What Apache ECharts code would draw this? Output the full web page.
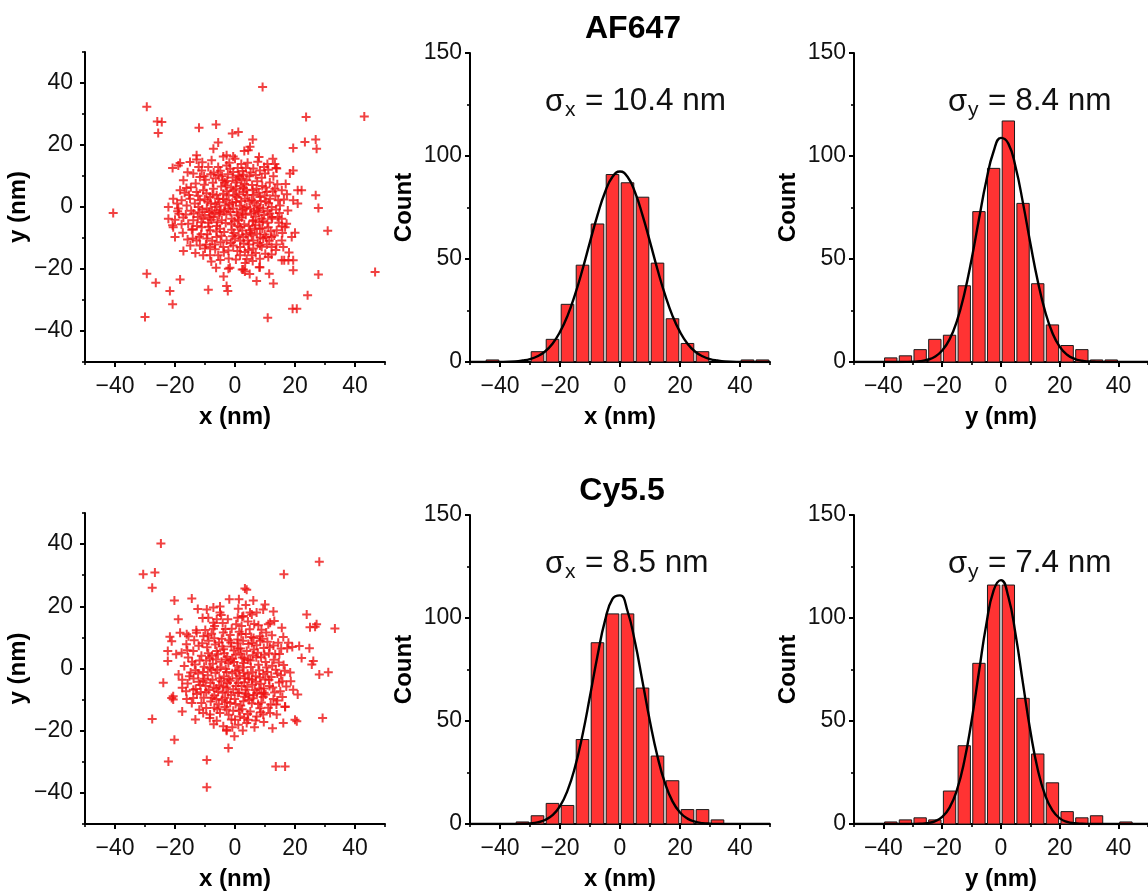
<!DOCTYPE html>
<html><head><meta charset="utf-8">
<script src="https://cdn.jsdelivr.net/npm/echarts@6/dist/echarts.min.js"></script>
<style>html,body{margin:0;padding:0;background:#fff}#c{width:1148px;height:895px}</style>
</head><body><div id="c"></div>
<script>
// ---------------- DATA ----------------
const BIN_WIDTH = 5;
const panelTitles = ['AF647', 'Cy5.5'];
const majorTicks = [-40, -20, 0, 20, 40];
const minorTicks = [-50, -30, -10, 10, 30, 50];

const af647Scatter = [
[9.2,38.7],[-29.4,32.3],[-25.9,27.6],[-24.4,27.4],[-25.6,23.9],[-12,25.6],[-6.3,26.6],[-0.9,23.7],[1.1,24.2],[23.7,29],[43.1,29.2],[23.3,21],[26.9,21.8],[27.2,18.8],[19.4,19],[5.9,21.8],[-5.6,20.8],[-7.2,18.8],[3.1,18.1],[4.4,18.3],[8,16.1],[-2.8,16.7],[-0.6,16.3],[-12.8,16.7],[-20.8,12.6],[-18.3,14.2],[12.6,15.6],[13.7,12.6],[18.3,10.8],[19.4,11.8],[20.9,5.4],[22.2,5.4],[26.9,3.8],[27.8,-0.3],[19.4,2.2],[20.9,1.1],[30.9,-7.7],[-40.6,-1.9],[46.7,-21],[20,-8.3],[16.4,-17.2],[19.4,-17.2],[19.4,-20.4],[27.8,-21.8],[24.2,-28.5],[19.2,-32.8],[20.6,-32.8],[10.9,-35.7],[-30,-35.5],[-20.8,-31.4],[-21.7,-27.1],[-29.4,-21.5],[-26.4,-24.4],[-18.3,-23.4],[-8.9,-26.7],[-2.8,-25.5],[-2.4,-27.1],[-2.2,-19.9],[2.4,-20.2],[3.3,-20.8],[7.2,-23.9],[11.4,-21.5],[12.8,-24.7],[11.1,-16.1],[8.1,-19.4],[5.9,-17.4],[-17.2,-14.2],[-20,-9.7],[-20.8,-5.9],[-14.1,-7.2],[16.1,-12.9],[18,-14.7],[15.6,-6.2],[14.2,-3.2],
[5,19.4],[13.3,13.9],[11.1,12],[13.9,12.4],[-12.8,15.3],[-15,14.5],[-18.9,13.4],[-7.8,15.1],[-3.9,16.3],[0,15.6],[-11.1,11.8],[-8.9,12.9],[-5.6,12.9],[-2.8,13.4],[1.1,10.2],[2.2,9.1],[0.6,8.6],[3.9,8.6],[-13.9,10.8],[-11.7,9.7],[-17.2,8.6],[6.1,12.4],[8.3,11.8],[10,10.8],
[-18.3,5.4],[-12.8,4.8],[-10.6,5.4],[-7.2,5.9],[-3.9,4.3],[-0.6,5.4],[2.8,4.8],[7.2,5.9],[10.6,4.8],[13.3,5.9],[15.6,5.4],
[-20.6,2.7],[-17.8,2.2],[-15,2.7],[-11.7,2.2],[-8.3,3.2],[-5.6,2.7],[-2.8,2.2],[0.6,3.2],[3.3,2.7],[5.6,2.2],[8.3,3.2],[11.7,2.7],[14.4,2.2],
[-22.2,0],[-18.9,-0.5],[-16.1,0.5],[-12.2,0],[-9.4,-0.5],[-6.1,0],[-3.3,0.5],[-0.6,-0.5],[3.9,0],[7.2,0.5],[9.4,-0.5],[12.2,0],[15,0.5],
[-22.2,-3.8],[-20,-4.1],[-17.2,-3.4],[-13.9,-4.3],[-10.6,-3.8],[-7.2,-3.2],[-4.4,-4.3],[-1.1,-3.8],[2.2,-3.4],[6.1,-4.3],[8.9,-3.8],[12.2,-3.2],[15.6,-3.8],[17.2,-5.4],
[-20.6,-6.5],[-14.4,-7.3],[-11.1,-6.5],[-8.3,-7.5],[-5,-7],[-1.1,-7.3],[1.7,-6.5],[5,-7.5],[8.3,-7],[11.1,-6.5],[13.9,-7.5],[16.7,-6.5],
[-12.8,-10.8],[-9.4,-10.2],[-6.1,-9.7],[-2.8,-10.8],[0,-10.2],[2.8,-9.7],[6.1,-10.8],[9.4,-10.2],[12.2,-9.7],[15.6,-10.8],[18.9,-9.7],
[-11.7,-12.4],[-10,-13.4],[-8.3,-12.9],[-3.9,-12.9],[-0.6,-12.4],[1.7,-12.9],[6.1,-13.4],[8.3,-12.4],[12.2,-12.9],
[-10.6,-15.6],[-8.3,-15.6],[-2.2,-14],[1.7,-15.6],[3.3,-14.5],[-5.6,-15.6],[5.6,-15.6],[8.3,-16.7],[15.6,-17.2],[17.8,-17.2],[-1.7,-19.6],[2.8,-20.2],[8.3,-19.4],
[1.5,9.8],[2.8,10.4],[0.2,7.9],[3.2,7.4],[1.9,6.8],[-0.8,9.5],[4.8,9.9],[2.5,11.6],[6.5,1.4],[7.9,-1.8],[9.7,-2.6],[10.8,-5.1],[6.8,-5.9],[5.4,-2.1],[8.6,1.9],[11.2,1.2],[7.3,-8.6],[9.9,-8.9],[6.2,3.9],[4.6,-6.1],[-7.5,4.1],[-5.2,1.5],[-3.6,-1.4],[-2.1,3.8],[-6.8,-1.9],[-4.6,6.6],[-1.8,0.9],[-8.1,1.2],[-2.9,-2.3],[-5.9,-4.9],[-3.4,7.9],[-1.2,-5.6],[-14.6,-1.2],[-16.4,-2.4],[-12.7,-6.1],[-15.3,3.9],[-10.2,7.2],[13.5,3.6],[14.8,-1.9],[12.4,-3.8],[16.3,2.4],[-9.7,-12.1],[-6.6,-13.6],[2.9,-11.8],[4.4,-13.9],[-4.3,9.9],[7.4,8.3],[9.1,6.8],[11.6,7.9],[-11.8,-1.7],[-10.1,2.5],[0.9,-2.7],[2.4,-0.9],[0.3,1.6],[-0.4,-8.4],[3.7,-8.8],[10.6,-12.1],[13.1,-9.2],[-15.8,-10.5],[-13.2,-14.8],
[-13.1,7.6],[-9.8,8.8],[-6.4,9.3],[-2.4,10.6],[5.7,7.1],[8.9,9.4],[12.8,9.9],[-16.2,6.1],[-4.9,11.7],[0.9,12.6],[4.2,14.3],[-9.5,4.4],[-6.1,3.8],[-3.1,6.9],[0.4,5.9],[3.8,5.6],[9.9,3.7],[12.6,5.1],[-13.4,1.1],[-10.9,-0.8],[-7.7,-1.1],[-4.8,-0.9],[-1.5,-1.6],[1.6,0.4],[4.8,1.9],[6.9,-3.1],[10.9,-1.3],[13.7,-0.8],[-18.7,-2.2],[-15.6,-5.4],[-12.4,-3.2],[-8.9,-5.1],[-6.2,-7.9],[-3.1,-5.2],[-0.2,-4.6],[3.1,-5.6],[5.6,-9.1],[8.1,-4.9],[11.9,-7.8],[14.6,-5.1],[-17.4,-8.3],[-14.1,-10.2],[-11.3,-8.8],[-7.6,-10.9],[-4.5,-9.3],[-1.4,-11.6],[1.2,-9.1],[4.3,-10.8],[7.6,-11.6],[10.4,-9.7],[13.8,-12.1],[-6.7,-12.1],[0.8,-14.2],[6.9,-14.8],[-12.1,12.9],[-7.1,11.1],[2.1,13.9],[7.6,14.6],[10.8,13.9],[-15.8,11.2],[-1.6,12.3],[5.2,11.1],[16.9,7.4],[17.6,-1.1],[-19.1,-1.4],[2.6,-2.2],[-2.6,8.4],[-8.4,-3.3],[5.9,5.4],[1.3,-4.2],[-11.2,-4.9],[8.9,-12.8],[-3.7,-14.6],[3.9,-16.8],[-7.9,-17.6],[12.2,-15.3],
[-10.3,9.9],[-7.4,7.8],[-4.1,8.6],[-1.3,6.3],[1.4,4.1],[4.1,3.9],[7.9,4.6],[10.2,6.3],[-12.3,3.6],[-9.1,1.8],[-6.6,0.9],[-3.9,2.6],[-0.9,1.4],[2.1,1.9],[5.1,-0.6],[8.2,-0.2],[10.3,1.7],[-13.8,-2.1],[-10.1,-2.6],[-7.9,-4.1],[-5.3,-2.4],[-2.2,-0.6],[0.6,-1.7],[3.6,-2.5],[6.3,-1.4],[9.3,-4.6],[11.6,-2.1],[-11.9,-9.6],[-9.2,-8.8],[-6.1,-6.1],[-3.6,-8.1],[-0.8,-9.4],[2.4,-7.6],[5.2,-8.3],[8.4,-9.8],[11.4,-10.9],[-4.8,-11.4],[1.8,-10.9],[4.7,-12.1],[-2.1,-16.6],[3.4,-18.1],[-8.8,-6.4],[6.6,-6.9],[-0.6,11.3],[3.6,12.6],[-8.1,10.6],[-5.6,10.3],[-1.9,14.3],[6.9,10.3],[9.7,12.9],[-14.7,6.4],[-16.8,4.6],[-19.3,1.1],[-17.8,-5.6],[14.1,7.3],[15.8,-8.4],[13.6,-13.9],[-14.9,-12.4],[17.3,4.1],[-10.9,14.4],[-4.9,-17.1],[10.1,-15.1],[0.3,-16.9],[-6.3,-19.6],[4.9,-21.6],[-3.8,-22.4],[7.6,-1.1],[9.1,-6.9],[-2.7,5.1],[-0.1,3.7],[3.2,-0.4],[5.9,-4.6],[2.8,6.1],[-5.1,-1.7],[-8.6,-1.6],[0.9,-6.1]
];

const cy55Scatter = [
[-24.7,40.2],[-30.6,30.3],[-26.7,30.9],[-27.6,26],[28.1,34.3],[16.3,30.3],[3.3,25.7],[3.9,25.3],[-14.4,22.5],[-20.2,21.9],[-5,19.9],[-1.9,22.3],[1.3,22.3],[6.1,21.9],[10,20.6],[12.8,18.3],[23.9,17.4],[33.3,12.9],[27.2,14.2],[25,13.3],[26.7,13.4],[15.6,13.1],[11.1,14.2],[-18.9,15.8],[-21.7,10.2],[-21.1,8.8],[-22.4,5.6],[-22.4,2.4],[-17.8,5.1],[-23.9,-4.6],[-21.1,-9.5],[-20.6,-10],[-17.6,-6.2],[-17.6,-13.8],[-27.6,-16.2],[-20.2,-22.9],[-22.2,-29.9],[-9.4,-29.4],[-9.4,-38.2],[-2.2,-25.6],[-0.2,-21.8],[-2.8,-20],[13.6,-31.5],[16.7,-31.5],[16.1,-17.5],[20.6,-17],[29.2,-15.9],[16.7,-12.4],[20.9,-8.4],[28.1,-1.9],[31.1,-1.2],[26.1,2.4],[25.6,1.3],[24.8,6.5],[22.2,3.4],[21.4,7.2],[17.4,6.5],[16.1,10.1],[12.8,7.4],[7.2,7.5],[8.3,10.4],[2.2,13.7],[2.4,16.6],[1.1,19.2],[5.6,17.4],[9.4,19],[13.1,15.3],
[-9.4,19],[-7.2,19.6],[-5,18],[-8.9,16.3],[-6.1,15.8],[-7.2,14.7],[2.8,16.9],[5,18],[7.2,18],[11.7,14.7],[-18.3,11.5],[-16.1,11],[-12.8,11.5],[-13.9,5.6],[14.4,8.3],[17.8,8.3],[-20.6,-8.9],[-13.9,-6.8],[-13.9,-9.5],[-14.4,-11.1],
[-10.6,-14.3],[-8.3,-14.8],[-5,-14.3],[-2.8,-13.2],[0,-16.5],[1.7,-15.4],[4.4,-16.5],[7.2,-15.4],[9.4,-14.8],[11.7,-14.3],[13.9,-14.8],[-3.9,-18.6],[-2.8,-19.7],[1.1,-18.1],[3.9,-17.5],[16.7,-12.2],[19.4,-6.8],[20,-16.5],
[-10.5,10.4],[-7.8,11.2],[-4.4,9.6],[-1.6,10.8],[0.9,9.3],[3.6,11.1],[6.2,9.8],[10.4,11.6],[-3.2,12.7],[0.4,14.2],
[-12.1,7.3],[-9.3,6.8],[-6.6,7.7],[-3.8,6.2],[-1.2,7.1],[1.8,6.4],[4.5,7.9],[9.6,6.6],[11.3,4.9],
[-15.6,3.5],[-11.2,4.1],[-8.4,3.3],[-5.7,4.6],[-2.6,3.8],[0.2,4.4],[3.1,3.2],[5.9,4.3],[8.7,3.6],[12.9,2.8],[14.8,4.7],
[-16.9,0.8],[-13.4,1.3],[-10.3,0.6],[-7.4,1.5],[-4.9,0.4],[-2.2,1.7],[0.7,0.9],[2.9,1.8],[5.3,0.5],[7.8,1.2],[10.5,0.3],[13.6,-0.4],[16.2,1.1],
[-18.8,-1.9],[-15.2,-2.5],[-12.3,-1.6],[-9.1,-2.2],[-6.5,-1.4],[-3.7,-2.6],[-0.9,-1.5],[1.6,-2.4],[4.2,-1.7],[6.9,-2.5],[9.4,-1.8],[12.1,-2.7],[15.3,-2.2],[18.4,-1.3],
[-15.8,-4.8],[-11.6,-5.3],[-8.2,-4.6],[-5.3,-5.5],[-2.5,-4.7],[0.3,-5.6],[3.1,-4.4],[5.8,-5.2],[8.6,-4.9],[11.5,-5.6],[14.7,-4.5],[17.1,-5.8],
[-12.7,-8.2],[-9.6,-7.6],[-6.9,-8.7],[-4.1,-7.8],[-1.3,-8.5],[1.4,-7.7],[4.4,-8.6],[7.3,-7.9],[10.2,-8.4],[13.2,-7.7],[15.8,-9.2],
[-11.2,-11.1],[-8.1,-10.6],[-5.4,-11.5],[-2.7,-10.8],[0.2,-11.4],[2.8,-10.5],[5.6,-11.2],[8.8,-10.9],[11.9,-11.6],[14.1,-10.3],
[-1.5,2.6],[1.2,-0.6],[-3.1,-0.2],[2.4,3.5],[-0.4,5.8],[4.7,-3.3],[-4.5,2.2],[6.3,6.1],[-6.2,-6.4],[3.5,-6.8],[0.8,8.1],[-2.9,-6.1],[8.1,-6.4],[-8.8,8.9],[10.1,-3.5],[-10.6,-3.9],[-7.2,12.8],[4.9,12.6],
[-4.1,14.6],[-10.8,16.2],[7.8,13.9],[-12.4,19.1],[-15.5,10.4],[19.1,6.9],[-19.6,4.6],[-16.3,-7.3],[18.6,-4.1],[-6.1,-16.8],[6.5,-18.9],[-13.2,-16.4],[12.5,-19.2],
[-9.9,12.4],[-6.8,13.7],[-2.4,15.8],[1.4,11.8],[4.3,15.1],[8.8,12.5],[12.3,10.7],[-13.6,9.1],[-10.9,8.1],[-5.3,8.4],[-2.1,9.1],[2.7,8.9],[5.6,8.2],[8.4,8.9],[10.8,8.6],[-14.3,2.2],[-9.6,2.6],[-6.3,2.9],[-3.6,4.9],[-0.8,3.1],[1.9,4.8],[4.3,2.8],[7.1,3.6],[10.2,2.1],[12.4,0.9],[-17.6,-3.6],[-13.8,-3.2],[-10.7,-1.1],[-7.9,-0.4],[-5.2,-3.1],[-2.1,-3.4],[0.5,-3.1],[3.3,-3.1],[5.9,-1.2],[8.3,-2.9],[11.3,-3.6],[14.1,-1.6],[-13.1,-6.6],[-9.8,-5.6],[-7.1,-6.1],[-3.8,-5.9],[-0.6,-6.7],[2.2,-5.6],[6.6,-6.9],[9.6,-6.4],[12.6,-6.1],[-10.4,-9.4],[-6.2,-9.8],[-3.3,-9.4],[-0.1,-9.8],[3.2,-9.1],[6.1,-9.6],[9.4,-9.2],[12.8,-9.8],[-9.6,-12.7],[-6.9,-12.6],[-3.4,-12.4],[-0.6,-13.6],[2.4,-13.1],[5.1,-13.8],[8.3,-12.8],[11.1,-12.6],[-1.2,-16.4],[3.1,-15.9],[-8.4,-15.9],[6.9,-16.7],[15.1,-7.3],[16.6,-0.7],[15.4,6.4],[-16.2,7.8],[-4.6,17.2],[3.6,20.4],
[-8.9,4.9],[-6.1,5.6],[-3.1,2.9],[-0.3,2.1],[2.6,0.3],[5.1,2.6],[7.6,5.1],[9.8,4.4],[-11.8,2.6],[-8.4,0.2],[-5.9,-0.4],[-2.8,-1.1],[0.1,-0.9],[2.9,-1.4],[5.6,-3.6],[8.1,-0.6],[10.8,-1.1],[-13.1,-0.6],[-10.2,-3.3],[-7.5,-3.6],[-4.6,-4.1],[-1.6,-3.9],[1.1,-4.7],[4.1,-5.9],[6.9,-4.3],[9.7,-7.8],[-12.1,-4.3],[-8.8,-6.9],[-5.6,-7.4],[-2.3,-7.6],[0.9,-7.9],[3.6,-8.1],[6.2,-8.6],[8.8,-8.1],[-11.4,-7.6],[-7.6,-9.4],[-4.4,-10.1],[-1.6,-11.1],[1.9,-11.9],[4.7,-10.1],[7.7,-11.4],[-5.9,-13.1],[-2.1,-14.9],[1.3,-13.6],[4.2,-14.6],[8.6,-14.1],[-3.9,11.6],[-1.1,12.8],[2.1,11.1],[5.4,10.1],[-6.9,9.7],[-9.1,10.6],[-1.4,8.4],[1.1,6.4],[3.9,5.6],[-4.2,7.1],[-7.7,4.1],[9.1,9.6],[11.6,6.8],[13.4,4.6],[14.6,1.9],[-14.8,-1.3],[-15.9,5.9],[-12.9,12.3],[0.9,16.3],[6.4,14.3],[-16.1,-9.8],[15.8,-4.1],[13.8,-11.6],[-11.9,-13.3],[-7.1,-17.9],[2.6,-19.9],[9.6,-17.2],[-0.9,-18.9]
];

// histogram bins: left edge of each bin (width BIN_WIDTH) and counts
const af647XBinStart = [-45,-30,-25,-20,-15,-10,-5,0,5,10,15,20,25,40,45];
const af647XCounts   = [1,5,11,28,47,67,91,87,80,48,21,9,5,1,1];
const af647YBinStart = [-40,-35,-30,-25,-20,-15,-10,-5,0,5,10,15,20,25,30,35];
const af647YCounts   = [2,3,6,11,13,37,73,94,117,77,38,18,8,6,1,1];
const cy55XBinStart  = [-35,-30,-25,-20,-15,-10,-5,0,5,10,15,20,25,30];
const cy55XCounts    = [1,4,10,9,41,88,102,102,66,33,21,7,7,2];
const cy55YBinStart  = [-40,-35,-30,-25,-20,-15,-10,-5,0,5,10,15,20,25,30,40];
const cy55YCounts    = [1,2,3,2,16,38,78,116,116,61,34,20,6,3,4,1];

// Gaussian fit curves, values at these positions
const fitX = [-50,-45,-40,-35,-32.5,-30,-27.5,-25,-22.5,-20,-17.5,-15,-12.5,-10,-7.5,-5,-2.5,0,2.5,5,7.5,10,12.5,15,17.5,20,22.5,25,27.5,30,32.5,35,40,45,50];
const af647XFit = [0,0,0.06,0.3,0.7,1.4,2.8,5.1,8.9,14.6,22.4,32.7,44.9,58.3,71.3,82.4,89.9,92.5,89.9,82.4,71.3,58.3,44.9,32.7,22.4,14.6,8.9,5.1,2.8,1.4,0.7,0.3,0.06,0,0];
const af647YFit = [0,0,0,0.01,0.05,0.15,0.42,1.09,2.56,5.55,10.97,19.9,32.9,49.9,69.3,88.0,102.3,108.8,106.0,94.4,77.0,57.5,39.3,24.6,14.1,7.36,3.53,1.55,0.62,0.23,0.08,0.02,0,0,0];
const cy55XFit  = [0,0,0,0.03,0.11,0.31,0.8,1.94,4.28,8.7,16.2,27.6,43.2,62.1,81.7,98.7,109.3,111.0,103.4,88.3,69.2,49.7,32.8,19.8,11.0,5.59,2.6,1.11,0.44,0.16,0.05,0.02,0,0,0];
const cy55YFit  = [0,0,0,0,0.01,0.04,0.14,0.45,1.32,3.43,7.95,16.5,30.4,50.2,73.8,96.9,113.4,118.4,110.3,91.7,68.0,45.0,26.5,14.0,6.57,2.75,1.03,0.34,0.1,0.03,0.01,0,0,0,0];

const sigmaAxis  = ['x', 'y', 'x', 'y'];
const sigmaValue = ['10.4', '8.4', '8.5', '7.4'];

// ---------------- LAYOUT / STYLE ----------------
const FONT = 'Liberation Sans, Arial, Helvetica, sans-serif';
const GRIDS = [
  {left: 85,  top: 52,  width: 300, height: 310},
  {left: 470, top: 53,  width: 300, height: 309},
  {left: 854, top: 53,  width: 300, height: 309},
  {left: 85,  top: 513, width: 300, height: 311},
  {left: 470, top: 515, width: 300, height: 309},
  {left: 854, top: 515, width: 300, height: 309}
];
const KIND = ['scatter','histX','histY','scatter','histX','histY'];
const minus = v => String(v).replace('-', '\u2212');
const axisLine = {show: true, onZero: false, lineStyle: {color: '#000', width: 2}};
const hiddenLine = {show: false, onZero: false};
const labelStyle = {color: '#111', fontSize: 23, fontFamily: FONT};
const nameStyle = {color: '#000', fontSize: 24, fontWeight: 'bold', fontFamily: FONT};

const xAxes = [], yAxes = [], series = [], graphics = [];

GRIDS.forEach((g, i) => {
  const kind = KIND[i];
  const xName = kind === 'histY' ? 'y (nm)' : 'x (nm)';
  xAxes.push({
    type: 'value', gridIndex: i, position: 'bottom', min: -50, max: 50, interval: 10,
    axisLine, splitLine: {show: false},
    axisTick: {show: true, customValues: majorTicks, length: 5, lineStyle: {color: '#000', width: 2}},
    axisLabel: {customValues: majorTicks, formatter: minus, margin: 13, ...labelStyle},
    name: xName, nameLocation: 'middle', nameGap: 43, nameTextStyle: nameStyle
  });
  xAxes.push({
    type: 'value', gridIndex: i, position: 'bottom', min: -50, max: 50, interval: 10,
    axisLine: hiddenLine, splitLine: {show: false}, axisLabel: {show: false},
    axisTick: {show: true, customValues: minorTicks, length: 3, lineStyle: {color: '#000', width: 1.6}}
  });
  if (kind === 'scatter') {
    yAxes.push({
      type: 'value', gridIndex: i, position: 'left', min: -50, max: 50, interval: 10,
      axisLine, splitLine: {show: false},
      axisTick: {show: true, customValues: majorTicks, length: 5, lineStyle: {color: '#000', width: 2}},
      axisLabel: {customValues: majorTicks, formatter: minus, margin: 12, ...labelStyle},
      name: 'y (nm)', nameLocation: 'middle', nameGap: 46, nameTextStyle: nameStyle
    });
    yAxes.push({
      type: 'value', gridIndex: i, position: 'left', min: -50, max: 50, interval: 10,
      axisLine: hiddenLine, splitLine: {show: false}, axisLabel: {show: false},
      axisTick: {show: true, customValues: minorTicks, length: 3, lineStyle: {color: '#000', width: 1.6}}
    });
  } else {
    yAxes.push({
      type: 'value', gridIndex: i, position: 'left', min: 0, max: 150, interval: 50,
      axisLine, splitLine: {show: false},
      axisTick: {show: true, length: 5, lineStyle: {color: '#000', width: 2}},
      minorTick: {show: true, splitNumber: 2, length: 3, lineStyle: {color: '#000', width: 1.6}},
      axisLabel: {margin: 8, ...labelStyle},
      name: 'Count', nameLocation: 'middle', nameGap: 54, nameTextStyle: nameStyle
    });
    yAxes.push({
      type: 'value', gridIndex: i, position: 'left', min: 0, max: 150, show: false,
      axisLine: hiddenLine
    });
  }
});

const plusSymbol = 'path://M0,3.5H9V5.5H0Z M3.5,0H5.5V9H3.5Z';
function scatterSeries(idx, data) {
  return {
    type: 'scatter', xAxisIndex: idx * 2, yAxisIndex: idx * 2, data,
    symbol: plusSymbol, symbolSize: 9, silent: true,
    itemStyle: {color: '#ee1111'}
  };
}
function renderBar(params, api) {
  const x0 = api.value(0), c = api.value(1);
  const tl = api.coord([x0, c]);
  const br = api.coord([x0 + BIN_WIDTH, 0]);
  const w = br[0] - tl[0];
  const inset = w * 0.08;
  return {
    type: 'rect',
    shape: {x: tl[0] + inset, y: tl[1], width: w - 2 * inset, height: br[1] - tl[1]},
    style: {fill: '#ff3333', stroke: '#1a1a1a', lineWidth: 1}
  };
}
function histSeries(idx, starts, counts) {
  return {
    type: 'custom', xAxisIndex: idx * 2, yAxisIndex: idx * 2,
    data: starts.map((s, k) => [s, counts[k]]),
    encode: {x: 0, y: 1}, renderItem: renderBar, silent: true, z: 2
  };
}
function fitSeries(idx, ys) {
  return {
    type: 'line', xAxisIndex: idx * 2, yAxisIndex: idx * 2,
    data: fitX.map((x, k) => [x, ys[k]]),
    smooth: 0.5, showSymbol: false, symbol: 'none', silent: true, z: 5,
    lineStyle: {color: '#000', width: 2.4}
  };
}

series.push(scatterSeries(0, af647Scatter));
series.push(histSeries(1, af647XBinStart, af647XCounts), fitSeries(1, af647XFit));
series.push(histSeries(2, af647YBinStart, af647YCounts), fitSeries(2, af647YFit));
series.push(scatterSeries(3, cy55Scatter));
series.push(histSeries(4, cy55XBinStart, cy55XCounts), fitSeries(4, cy55XFit));
series.push(histSeries(5, cy55YBinStart, cy55YCounts), fitSeries(5, cy55YFit));

const TITLE_POS = [[633, 29], [622, 491]];
panelTitles.forEach((t, k) => {
  graphics.push({type: 'text', x: TITLE_POS[k][0], y: TITLE_POS[k][1],
    style: {text: t, fontSize: 32, fontWeight: 'bold', fontFamily: FONT, fill: '#000', align: 'center', verticalAlign: 'middle'}});
});
const SIGMA_POS = [[545, 101], [948, 101], [545, 563], [948, 563]];
sigmaAxis.forEach((ax, k) => {
  const [sx, sy] = SIGMA_POS[k];
  graphics.push({type: 'text', x: sx, y: sy + 1,
    style: {text: '\u03c3', fontSize: 31, fontFamily: FONT, fill: '#111', align: 'left', verticalAlign: 'middle'}});
  graphics.push({type: 'text', x: sx + 20, y: sy + 9,
    style: {text: ax, fontSize: 21, fontFamily: FONT, fill: '#111', align: 'left', verticalAlign: 'middle'}});
  graphics.push({type: 'text', x: sx + 40, y: sy,
    style: {text: '= ' + sigmaValue[k] + ' nm', fontSize: 31.5, fontFamily: FONT, fill: '#111', align: 'left', verticalAlign: 'middle'}});
});

const chart = echarts.init(document.getElementById('c'), null, {renderer: 'canvas'});
chart.setOption({
  animation: false,
  backgroundColor: '#fff',
  grid: GRIDS.map(g => ({...g, containLabel: false})),
  xAxis: xAxes,
  yAxis: yAxes,
  series,
  graphic: graphics
});
</script></body></html>
